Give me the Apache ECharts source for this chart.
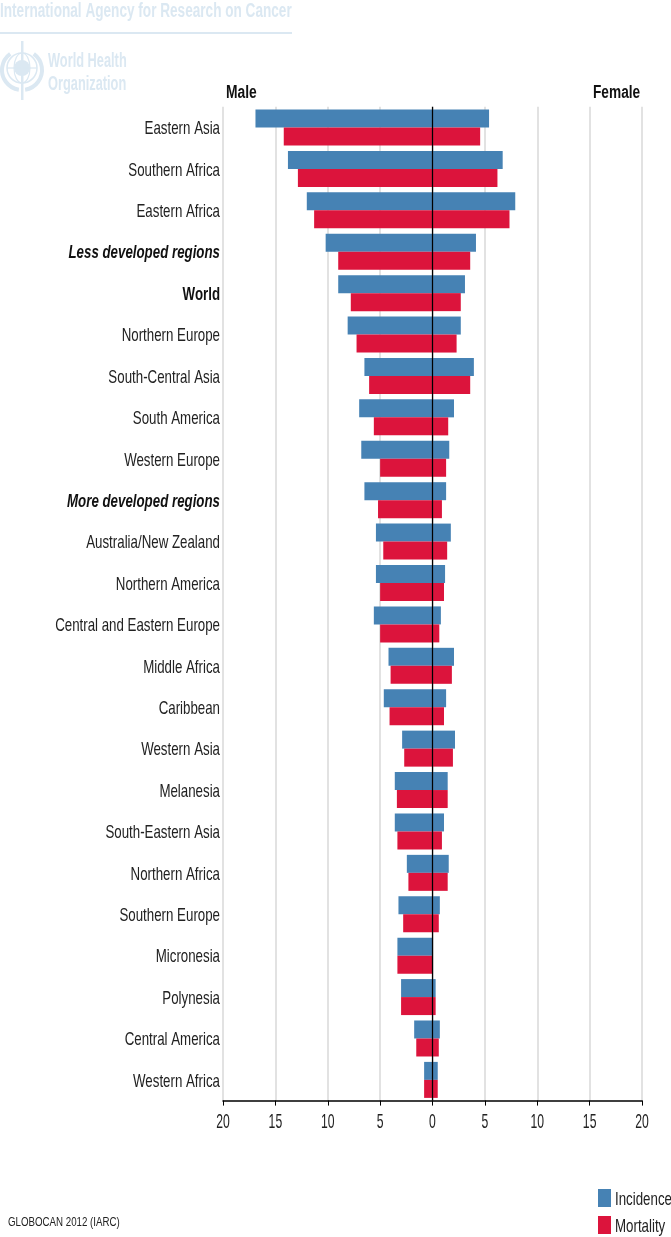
<!DOCTYPE html>
<html><head><meta charset="utf-8">
<style>html,body{margin:0;padding:0;background:#fff}#c{width:671px;height:1237px}</style>
<script src="https://cdn.jsdelivr.net/npm/echarts@6/dist/echarts.min.js"></script>
</head><body><div id="c"></div>
<script>
const categories=["Eastern Asia","Southern Africa","Eastern Africa","Less developed regions","World","Northern Europe","South-Central Asia","South America","Western Europe","More developed regions","Australia/New Zealand","Northern America","Central and Eastern Europe","Middle Africa","Caribbean","Western Asia","Melanesia","South-Eastern Asia","Northern Africa","Southern Europe","Micronesia","Polynesia","Central America","Western Africa"];
const boldItalicCategories=["Less developed regions","More developed regions"];
const boldCategories=["World"];
const maleIncidence=[16.9,13.8,12,10.2,9,8.1,6.5,7,6.8,6.5,5.4,5.4,5.6,4.2,4.65,2.9,3.6,3.6,2.45,3.25,3.35,3.0,1.75,0.8];
const maleMortality=[14.2,12.85,11.3,9,7.8,7.25,6.05,5.6,5,5.2,4.7,5,5,4,4.1,2.7,3.4,3.35,2.3,2.8,3.35,3.0,1.55,0.8];
const femaleIncidence=[5.4,6.7,7.9,4.15,3.1,2.7,3.95,2.05,1.6,1.3,1.75,1.2,0.8,2.05,1.3,2.15,1.45,1.1,1.55,0.7,0.05,0.3,0.7,0.5];
const femaleMortality=[4.55,6.2,7.35,3.6,2.7,2.3,3.6,1.5,1.3,0.9,1.4,1.1,0.65,1.85,1.1,1.95,1.45,0.9,1.45,0.6,0.05,0.3,0.6,0.5];
const tickValues=[-20,-15,-10,-5,0,5,10,15,20];
const FONT='"Liberation Sans",Arial,sans-serif';
const BLUE='#4682b4',RED='#dc143c',FAINT='#dbe8f2',INK='#222';
const neg=a=>a.map(v=>-v);
const barBase={type:'bar',barWidth:18,barGap:0,z:2,silent:true};
const chart=echarts.init(document.getElementById('c'),null,{renderer:'canvas'});
// condensed text: the reference's labels are horizontally squeezed, so they are scaled text elements
const squeezed=(text,x,y,size,scale,align,extra)=>({type:'text',x,y,scaleX:scale,silent:true,z:10,
  style:Object.assign({text,fontFamily:FONT,fontSize:size,fill:INK,textAlign:align,textVerticalAlign:'middle'},extra||{})});
chart.setOption({
  animation:false,
  grid:{left:223,right:29,top:106.8,bottom:136.4},
  legend:{left:598,top:1189,orient:'vertical',padding:0,itemWidth:13,itemHeight:18,itemGap:9,data:['Incidence','Mortality'],
    icon:'rect',selectedMode:false,formatter:()=>' ',textStyle:{fontSize:12}},
  xAxis:{type:'value',min:-20,max:20,interval:5,
    axisLine:{show:true,onZero:false,lineStyle:{color:'#000',width:1.5}},
    axisTick:{show:true,length:5,lineStyle:{color:'#000',width:1}},
    axisLabel:{show:false},
    splitLine:{show:true,lineStyle:{color:'#d9d9d9',width:1.5}}},
  yAxis:{type:'category',inverse:true,data:categories,
    axisLine:{show:false},axisTick:{show:false},axisLabel:{show:false},splitLine:{show:false}},
  series:[
    {...barBase,name:'Incidence',stack:'inc',data:neg(maleIncidence),itemStyle:{color:BLUE}},
    {...barBase,name:'Mortality',stack:'mort',data:neg(maleMortality),itemStyle:{color:RED}},
    {...barBase,name:'Incidence',stack:'inc',data:femaleIncidence,itemStyle:{color:BLUE}},
    {...barBase,name:'Mortality',stack:'mort',data:femaleMortality,itemStyle:{color:RED},
      markLine:{silent:true,symbol:'none',z:5,label:{show:false},lineStyle:{color:'#000',width:1.25,type:'solid'},data:[{xAxis:0}]}}
  ]
});
const catLabels=categories.map(c=>{
  const y=chart.convertToPixel({yAxisIndex:0},c)+1.5;
  const extra=boldItalicCategories.includes(c)?{fontWeight:'bold',fontStyle:'italic',fill:'#111'}:boldCategories.includes(c)?{fontWeight:'bold',fill:'#111'}:{};
  return squeezed(c,220,y,19,0.70,'right',extra);
});
const tickLabels=tickValues.map(v=>squeezed(String(Math.abs(v)),chart.convertToPixel({xAxisIndex:0},v),1122,21,0.58,'center'));
const emblem=[
  {type:'circle',shape:{cx:22,cy:68,r:15},style:{fill:'none',stroke:FAINT,lineWidth:1.5}},
  {type:'circle',shape:{cx:22,cy:68,r:8},style:{fill:FAINT}},
  {type:'ellipse',shape:{cx:22,cy:68,rx:8,ry:15},style:{fill:'none',stroke:FAINT,lineWidth:1.2}},
  {type:'line',shape:{x1:7,y1:68,x2:37,y2:68},style:{stroke:FAINT,lineWidth:1.2}},
  {type:'arc',shape:{cx:22,cy:70,r:20,startAngle:Math.PI*0.55,endAngle:Math.PI*1.3},style:{fill:'none',stroke:FAINT,lineWidth:4}},
  {type:'arc',shape:{cx:22,cy:70,r:20,startAngle:-Math.PI*0.3,endAngle:Math.PI*0.45},style:{fill:'none',stroke:FAINT,lineWidth:4}},
  {type:'rect',shape:{x:21,y:41,width:2.5,height:59},style:{fill:FAINT}}
].map(e=>Object.assign(e,{silent:true}));
chart.setOption({graphic:[
  squeezed('International Agency for Research on Cancer',0,11,20,0.68,'left',{fontWeight:'bold',fill:FAINT}),
  {type:'rect',shape:{x:0,y:32,width:292,height:2},style:{fill:FAINT},silent:true},
  squeezed('World Health',48,61,20,0.64,'left',{fontWeight:'bold',fill:FAINT}),
  squeezed('Organization',48,84,20,0.64,'left',{fontWeight:'bold',fill:FAINT}),
  ...emblem,
  squeezed('Male',226,93,18,0.77,'left',{fontWeight:'bold',fill:'#111'}),
  squeezed('Female',593,93,18,0.76,'left',{fontWeight:'bold',fill:'#111'}),
  squeezed('GLOBOCAN 2012 (IARC)',8,1223,12,0.81,'left'),
  squeezed('Incidence',615,1200,19,0.70,'left'),
  squeezed('Mortality',615,1227,19,0.70,'left'),
  ...catLabels,...tickLabels
]});
</script></body></html>
